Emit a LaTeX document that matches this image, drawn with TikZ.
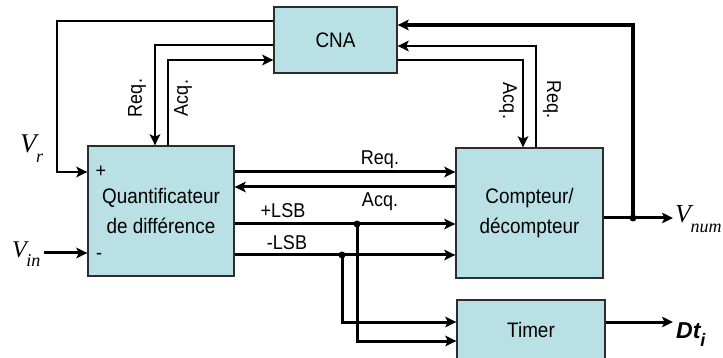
\documentclass[tikz,border=0pt]{standalone}
\usepackage{fontspec}
\setmainfont{Liberation Sans}[FakeStretch=0.9]
\newfontfamily\tmsfont{Liberation Serif}
\newfontfamily\dtfont{Liberation Sans}
\usetikzlibrary{arrows.meta}
\definecolor{boxfill}{RGB}{185,224,228}
\definecolor{boxline}{RGB}{45,45,45}
\newcommand{\vlab}[3]{{\tmsfont\itshape\fontsize{#3}{#3}\selectfont #1\kern-0.5pt\raisebox{-0.36em}{\fontsize{18}{18}\selectfont #2}}}
\begin{document}
\begin{tikzpicture}[x=1pt,y=-1pt,
  blk/.style={draw=boxline, line width=1.3pt, fill=boxfill, inner sep=0pt, align=center,
    font=\fontsize{21}{30}\selectfont},
  tip/.style={-{Stealth[length=11pt,width=10.5pt,inset=2.5pt]}},
  wire/.style={line width=3pt, tip},
  thinwire/.style={line width=2.2pt, tip},
  fatwire/.style={line width=4.4pt, tip},
  lbl/.style={inner sep=0pt, font=\fontsize{20}{20}\selectfont},
  dot/.style={circle, fill=black, inner sep=0pt, minimum size=7pt}]
\useasboundingbox (0,0) rectangle (723,358);

% blocks
\node[blk, minimum width=123pt, minimum height=66pt] (cna) at (335.5,40) {CNA};
\node[blk, minimum width=146pt, minimum height=130pt] (quant) at (161,211) {Quantificateur\\de différence};
\node[blk, minimum width=147pt, minimum height=130pt] (cpt) at (529.5,213) {Compteur/\\décompteur};
\node[blk, minimum width=148pt, minimum height=60pt] (timer) at (531,330) {Timer};

% + and - signs
\node[lbl, anchor=center] (plus) at (101,172) {+};
\node[lbl, anchor=center] (minus) at (99,256) {-};

% V_r feedback from CNA
\draw[thinwire] (cna.west |- 0,21) -| (57,172) -- (quant.west |- 0,172);
\node[anchor=base west, inner sep=0pt] (vr) at (20,153) {\vlab{V}{r}{27}};

% Req / Acq between quantificateur and CNA
\draw[thinwire] (cna.west |- 0,45) -| (quant.north -| 155,0);
\draw[thinwire] (quant.north -| 168,0) |- (cna.west |- 0,60);
\node[lbl, rotate=90] (reqL) at (137,98) {Req.};
\node[lbl, rotate=90] (acqL) at (183,98) {Acq.};

% Req / Acq between compteur and CNA
\draw[thinwire] (cpt.north -| 536,0) |- (cna.east |- 0,46);
\draw[thinwire] (cna.east |- 0,60) -| (cpt.north -| 523,0);
\node[lbl, rotate=-90] (acqR) at (508,101) {Acq.};
\node[lbl, rotate=-90] (reqR) at (552,100) {Req.};

% output V_num and thick feedback
\node[dot] (jn) at (633,218) {};
\draw[wire] (cpt.east |- 0,218) -- (673,218) coordinate (vnumend);
\node[anchor=base west, inner sep=0pt] (vnum) at (675,223) {\vlab{V}{num}{26}};
\draw[fatwire] (jn.center) |- (cna.east |- 0,25);

% middle Req / Acq
\draw[wire] (quant.east |- 0,172) -- (cpt.west |- 0,172);
\node[lbl] (reqM) at (380,160) {Req.};
\draw[wire] (cpt.west |- 0,187) -- (quant.east |- 0,187);
\node[lbl] (acqM) at (380,202) {Acq.};

% +LSB / -LSB
\draw[wire] (quant.east |- 0,224) -- (cpt.west |- 0,224);
\node[lbl] (plsb) at (283,211) {+LSB};
\draw[wire] (quant.east |- 0,255) -- (cpt.west |- 0,255);
\node[lbl] (mlsb) at (287,243) {-LSB};
\node[dot] (jp) at (357,224) {};
\node[dot] (jm) at (342,255) {};
\draw[wire] (jp.center) |- (timer.west |- 0,341);
\draw[wire] (jm.center) |- (timer.west |- 0,322);

% V_in
\coordinate (vinstart) at (44,253);
\draw[wire] (vinstart) -- (quant.west |- 0,253);
\node[anchor=base west, inner sep=0pt] (vin) at (12,258) {\vlab{V}{in}{24}};

% Timer output
\draw[wire] (timer.east |- 0,322) -- (673,322) coordinate (dtend);
\node[anchor=base west, inner sep=0pt] (dt) at (676,338) {\dtfont\fontsize{23}{23}\selectfont\bfseries\itshape Dt\raisebox{-0.36em}{\fontsize{18}{18}\selectfont i}};
\end{tikzpicture}
\end{document}
